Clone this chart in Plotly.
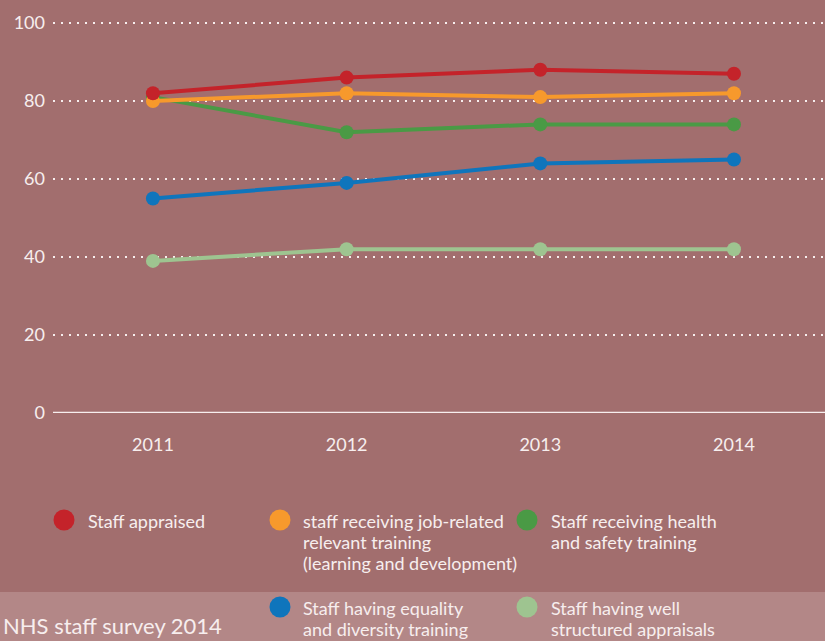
import plotly.graph_objects as go

years = [2011, 2012, 2013, 2014]
staff_appraised = [82, 86, 88, 87]
job_related_training = [80, 82, 81, 82]
health_safety_training = [81, 72, 74, 74]
equality_diversity_training = [55, 59, 64, 65]
well_structured_appraisals = [39, 42, 42, 42]

y_ticks = [0, 20, 40, 60, 80, 100]
x_tick_labels = ["2011", "2012", "2013", "2014"]

series_names = [
    ["Staff having well", "structured appraisals"],
    ["Staff having equality", "and diversity training"],
    ["Staff receiving health", "and safety training"],
    ["staff receiving job-related", "relevant training", "(learning and development)"],
    ["Staff appraised"],
]
series_values = [well_structured_appraisals, equality_diversity_training,
                 health_safety_training, job_related_training, staff_appraised]
series_colors = ["#9ec490", "#0f75bc", "#4a9a45", "#f7992c", "#c4232a"]

BG = "#a26e6e"
BAND = "#b38787"
TXT = "#f7eeee"
FONT = "Lato"

fig = go.Figure()
for name, vals, col in zip(series_names, series_values, series_colors):
    fig.add_trace(go.Scatter(
        x=years, y=vals, mode="lines+markers", name=" ".join(name),
        line=dict(color=col, width=4),
        marker=dict(color=col, size=14),
        showlegend=False, cliponaxis=False,
    ))

W, H = 825, 641
L, T, PH = 53, 13, 400
Y_TOP = 400 / 3.9

def px_x(p):
    return (p - L) / (W - L)

def px_y(p):
    return (T + PH - p) / PH

# bottom band
fig.add_shape(type="rect", xref="paper", yref="paper",
              x0=px_x(0), x1=1.0, y0=px_y(H + 2), y1=px_y(592),
              fillcolor=BAND, line=dict(width=0), layer="below")

# zero line
fig.add_shape(type="line", xref="paper", yref="y", x0=0, x1=1, y0=0, y1=0,
              line=dict(color=TXT, width=2.5))

# custom legend: (circle x, circle y, text x, first line y, series idx)
legend_items = [
    (64, 520, 88, 521, 4),
    (280, 520, 303, 521, 3),
    (527, 520, 551, 521, 2),
    (280, 607, 303, 608, 1),
    (527, 607, 551, 608, 0),
]
for cx, cy, tx, ty, idx in legend_items:
    r = 10.5
    fig.add_shape(type="circle", xref="paper", yref="paper",
                  x0=px_x(cx - r), x1=px_x(cx + r), y0=px_y(cy + r), y1=px_y(cy - r),
                  fillcolor=series_colors[idx], line=dict(width=0))
    for k, line_text in enumerate(series_names[idx]):
        fig.add_annotation(xref="paper", yref="paper", x=px_x(tx - 2), y=px_y(ty + 21 * k),
                           xanchor="left", yanchor="middle", align="left",
                           text=line_text, showarrow=False,
                           font=dict(family=FONT, size=18, color=TXT))

fig.add_annotation(xref="paper", yref="paper", x=px_x(1), y=px_y(625),
                   xanchor="left", yanchor="middle",
                   text="NHS staff survey 2014", showarrow=False,
                   font=dict(family=FONT, size=22, color=TXT))

fig.update_layout(
    width=W, height=H,
    margin=dict(l=L, r=0, t=T, b=H - T - PH),
    paper_bgcolor=BG, plot_bgcolor=BG,
    font=dict(family=FONT, color=TXT, size=17),
    xaxis=dict(range=[2010.484, 2014.47], tickvals=years, ticktext=x_tick_labels,
               showgrid=False, zeroline=False, showline=False, ticks="",
               tickfont=dict(size=18, color=TXT), ticklabelstandoff=19),
    yaxis=dict(range=[0, Y_TOP], tickvals=y_ticks, showgrid=True,
               gridcolor=TXT, gridwidth=2, griddash="2px,6px",
               zeroline=False, showline=False, ticks="",
               tickfont=dict(size=18, color=TXT), ticklabelstandoff=7),
)

fig.write_html("out.html", config={"displayModeBar": False},
               post_script="document.body.style.margin='0';document.body.style.padding='0';")
